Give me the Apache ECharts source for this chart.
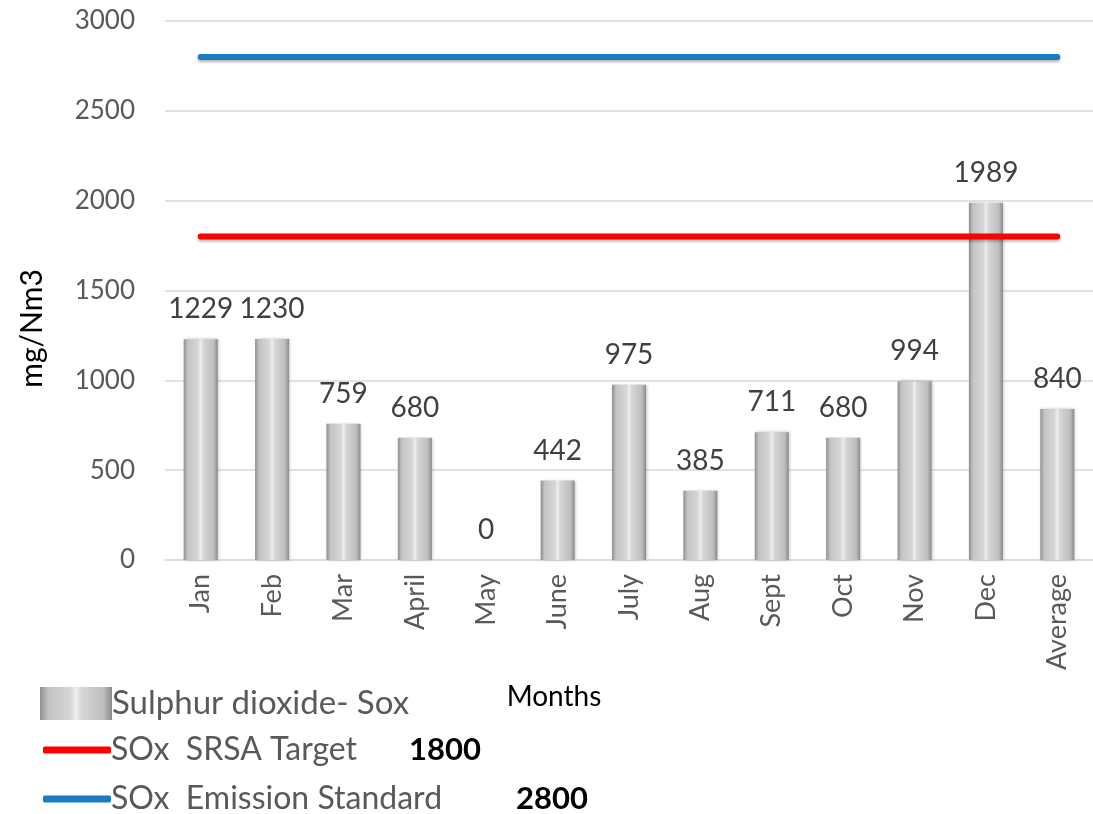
<!DOCTYPE html>
<html>
<head>
<meta charset="utf-8">
<script src="https://cdn.jsdelivr.net/npm/echarts@6/dist/echarts.min.js"></script>
<style>
  html, body { margin: 0; padding: 0; background: #fff; }
  #chart { width: 1093px; height: 814px; }
</style>
</head>
<body>
<div id="chart"></div>
<script>
const months = ["Jan", "Feb", "Mar", "April", "May", "June", "July", "Aug", "Sept", "Oct", "Nov", "Dec", "Average"];
const soxValues = [1229, 1230, 759, 680, 0, 442, 975, 385, 711, 680, 994, 1989, 840];
const targetValue = 1800;
const standardValue = 2800;

const targetLine = months.map(() => targetValue);
const standardLine = months.map(() => standardValue);

const font = "Lato, 'Open Sans', sans-serif";

const barGradient = new echarts.graphic.LinearGradient(0, 0, 1, 0, [
  { offset: 0, color: "#8f8f8f" },
  { offset: 0.12, color: "#c4c4c4" },
  { offset: 0.42, color: "#d6d6d6" },
  { offset: 0.5, color: "#eeeeee" },
  { offset: 0.58, color: "#d6d6d6" },
  { offset: 0.88, color: "#bdbdbd" },
  { offset: 1, color: "#8a8a8a" }
]);

// one legend per row so each can be placed like the original
function lineLegend(name, value, top, nameWidth) {
  return {
    data: [name],
    left: 38, top: top,
    itemWidth: 68, itemHeight: 7, itemGap: 0,
    icon: "roundRect",
    formatter: n => "{n|" + n + "}{b|" + value + "}",
    textStyle: {
      padding: [0, 0, 0, -5],
      rich: {
        n: { fontSize: 32, color: "#595959", width: nameWidth },
        b: { fontSize: 31, fontWeight: "bold", color: "#000" }
      }
    }
  };
}

const chart = echarts.init(document.getElementById("chart"));
chart.setOption({
  animation: false,
  textStyle: { fontFamily: font },
  grid: { left: 165, right: 0, top: 21, bottom: 254 },
  legend: [
    {
      data: ["Sulphur dioxide- Sox"],
      left: 35, top: 682,
      itemWidth: 72, itemHeight: 33, itemGap: 0,
      icon: "rect",
      textStyle: { fontSize: 33, color: "#595959", padding: [0, 0, 0, -5] }
    },
    lineLegend("SOx  SRSA Target", targetValue, 729, 298),
    lineLegend("SOx  Emission Standard", standardValue, 778, 405)
  ],
  xAxis: {
    type: "category",
    data: months,
    name: "Months",
    nameLocation: "middle",
    nameGap: 123,
    nameTextStyle: { fontSize: 28, color: "#000", padding: [0, 150, 0, 0] },
    axisLine: { lineStyle: { color: "#d9d9d9", width: 1.5 } },
    axisTick: { show: false },
    axisLabel: { rotate: 90, fontSize: 27, color: "#595959", margin: 14 }
  },
  yAxis: {
    type: "value",
    min: 0, max: 3000, interval: 500,
    name: "mg/Nm3",
    nameLocation: "middle",
    nameGap: 118,
    nameTextStyle: { fontSize: 30, color: "#000", padding: [0, 76, 0, 0] },
    axisLine: { show: false },
    axisTick: { show: false },
    axisLabel: { fontSize: 26, color: "#595959", margin: 30, formatter: v => String(v) },
    splitLine: { lineStyle: { color: "#d9d9d9", width: 1.5 } }
  },
  series: [
    {
      name: "Sulphur dioxide- Sox",
      type: "bar",
      data: soxValues,
      barWidth: 34,
      itemStyle: {
        color: barGradient,
        shadowColor: "rgba(0,0,0,0.25)",
        shadowBlur: 3,
        shadowOffsetX: 1
      },
      label: {
        show: true,
        position: "top",
        distance: 16,
        fontSize: 28,
        color: "#404040"
      },
      z: 2
    },
    {
      name: "SOx  SRSA Target",
      type: "line",
      data: targetLine,
      symbol: "none",
      lineStyle: { color: "#ff0000", width: 6, cap: "round", shadowColor: "rgba(0,0,0,0.3)", shadowBlur: 3, shadowOffsetY: 2 },
      itemStyle: { color: "#ff0000" },
      z: 3
    },
    {
      name: "SOx  Emission Standard",
      type: "line",
      data: standardLine,
      symbol: "none",
      lineStyle: { color: "#1a7cc1", width: 6, cap: "round", shadowColor: "rgba(0,0,0,0.3)", shadowBlur: 3, shadowOffsetY: 2 },
      itemStyle: { color: "#1a7cc1" },
      z: 3
    }
  ]
});
</script>
</body>
</html>
